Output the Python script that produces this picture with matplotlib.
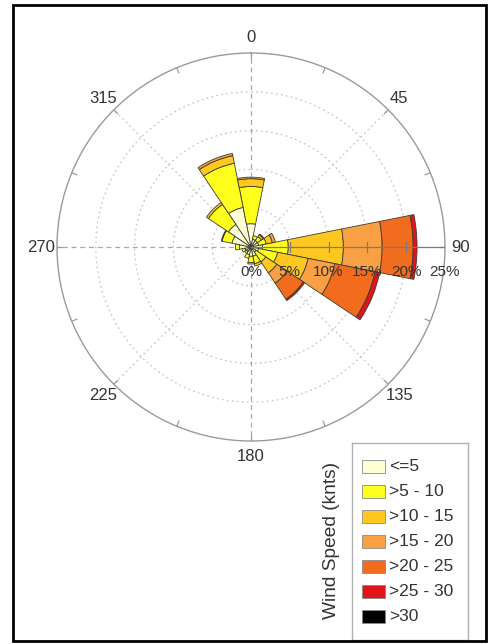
import numpy as np
import matplotlib
matplotlib.use("Agg")
import matplotlib.pyplot as plt
from matplotlib.patches import Rectangle
from matplotlib import transforms

plt.rcParams['font.family'] = ['Liberation Sans', 'DejaVu Sans']

# Direction bins (degrees, clockwise from north), 16 sectors
directions = [0, 22.5, 45, 67.5, 90, 112.5, 135, 157.5,
              180, 202.5, 225, 247.5, 270, 292.5, 315, 337.5]

# Frequency (%) of each wind-speed class per direction
speed_le5   = [3.0, 1.0, 1.0, 1.0, 1.5, 1.0, 0.8, 1.2, 1.2, 1.0, 0.7, 0.8, 1.5, 2.5, 3.5, 5.2]
speed_5_10  = [4.8, 0.5, 0.6, 1.0, 3.3, 2.5, 1.5, 1.0, 0.8, 0.5, 0.3, 0.4, 0.5, 1.3, 3.1, 5.8]
speed_10_15 = [1.0, 0.0, 0.3, 0.8, 7.1, 4.0, 1.7, 0.3, 0.2, 0.0, 0.0, 0.0, 0.0, 0.1, 0.3, 1.0]
speed_15_20 = [0.2, 0.0, 0.1, 0.4, 5.0, 3.5, 1.6, 0.0, 0.0, 0.0, 0.0, 0.0, 0.0, 0.0, 0.0, 0.3]
speed_20_25 = [0.0, 0.0, 0.0, 0.0, 4.0, 5.3, 2.5, 0.0, 0.0, 0.0, 0.0, 0.0, 0.0, 0.0, 0.0, 0.0]
speed_25_30 = [0.0, 0.0, 0.0, 0.0, 0.5, 0.6, 0.2, 0.0, 0.0, 0.0, 0.0, 0.0, 0.0, 0.0, 0.0, 0.0]
speed_gt30  = [0.0] * 16

speed_labels = ['<=5', '>5 - 10', '>10 - 15', '>15 - 20', '>20 - 25', '>25 - 30', '>30']
speed_colors = ['#FFFFD6', '#FFFF1E', '#FFC81E', '#F8A043', '#F26C1E', '#E0141A', '#000000']

radial_ticks = [0, 5, 10, 15, 20, 25]
angle_ticks = [0, 45, 90, 135, 180, 225, 270, 315]

W, H = 498, 644
fig = plt.figure(figsize=(W / 100, H / 100), dpi=100)

# polar axes: centre and radius in pixels
cx, cy, R = 251, 247, 194
ax = fig.add_axes([(cx - R) / W, (H - cy - R) / H, 2 * R / W, 2 * R / H],
                  projection='polar')
ax.set_theta_zero_location('N')
ax.set_theta_direction(-1)
ax.set_ylim(0, 25)
ax.grid(False)
ax.set_xticks([])
ax.set_yticks([])
ax.spines['polar'].set_color('#9a9a9a')
ax.spines['polar'].set_linewidth(1.0)

# grid circles and spokes
tt = np.linspace(0, 2 * np.pi, 500)
for r in [5, 10, 15, 20]:
    ax.plot(tt, np.full_like(tt, r), color='#c6c6c6', lw=0.9,
            ls=(0, (1.5, 2.5)), zorder=1)
for a in [45, 135, 225, 315]:
    ax.plot([np.deg2rad(a)] * 2, [0, 25], color='#c6c6c6', lw=0.9,
            ls=(0, (1.5, 2.5)), zorder=1)
for a in [0, 180, 270]:
    ax.plot([np.deg2rad(a)] * 2, [0, 25], color='#a8a8a8', lw=0.9,
            ls=(0, (4, 3)), zorder=1)
# outer rim ticks every 22.5 degrees
for a in directions:
    ax.plot([np.deg2rad(a)] * 2, [24.3, 25], color='#9a9a9a', lw=0.9, zorder=1)

# stacked sectors
theta = np.deg2rad(directions)
width = np.deg2rad(22.5)
classes = [speed_le5, speed_5_10, speed_10_15, speed_15_20,
           speed_20_25, speed_25_30, speed_gt30]
bottom = np.zeros(len(directions))
for vals, col in zip(classes, speed_colors):
    vals = np.asarray(vals, dtype=float)
    m = vals > 0
    if m.any():
        ax.bar(theta[m], vals[m], width=width, bottom=bottom[m], color=col,
               edgecolor='#3c3c30', linewidth=0.6, zorder=3)
    bottom += vals

# radial axis along 90 degrees with ticks and labels
ax.plot([np.pi / 2] * 2, [0, 25], color='#7a7a7a', lw=0.9, zorder=4)
ax.plot([np.pi / 2] * 5, radial_ticks[1:], ls='none', marker='|', ms=7,
        mew=0.9, color='#7a7a7a', zorder=4)
lab_tr = transforms.offset_copy(ax.transData, fig=fig, x=0, y=-18, units='points')
for r in radial_ticks:
    ax.text(np.pi / 2, r, f'{r}%', transform=lab_tr, ha='center', va='center',
            fontsize=11, color='#333333', zorder=6)

for a in angle_ticks:
    ax.text(np.deg2rad(a), 27.0, str(a), ha='center', va='center',
            fontsize=12, color='#333333', clip_on=False)

# outer frame
fig.add_artist(Rectangle((13 / W, (H - 641) / H), (486 - 13) / W, (641 - 5) / H,
                         transform=fig.transFigure, fill=False,
                         edgecolor='black', linewidth=2))

# legend box
lx0, lx1, ly0, ly1 = 352, 468, 443, 640
lax = fig.add_axes([lx0 / W, (H - ly1) / H, (lx1 - lx0) / W, (ly1 - ly0) / H])
lax.set_xlim(lx0, lx1)
lax.set_ylim(ly1, ly0)
lax.set_xticks([])
lax.set_yticks([])
for s in lax.spines.values():
    s.set_color('#b0b0b0')
    s.set_linewidth(1.0)
for i, (lab, col) in enumerate(zip(speed_labels, speed_colors)):
    yc = 467 + 25 * i
    lax.add_patch(Rectangle((362, yc - 6.5), 23, 13, facecolor=col,
                            edgecolor='#8a8a8a', linewidth=0.6))
    lax.text(389, yc, lab, ha='left', va='center', fontsize=12.5, color='#333333')

fig.text(332 / W, 1 - 540 / H, 'Wind Speed (knts)', rotation=90,
         ha='center', va='center', fontsize=13.8, color='#333333')

fig.savefig('out.png', dpi=100)
